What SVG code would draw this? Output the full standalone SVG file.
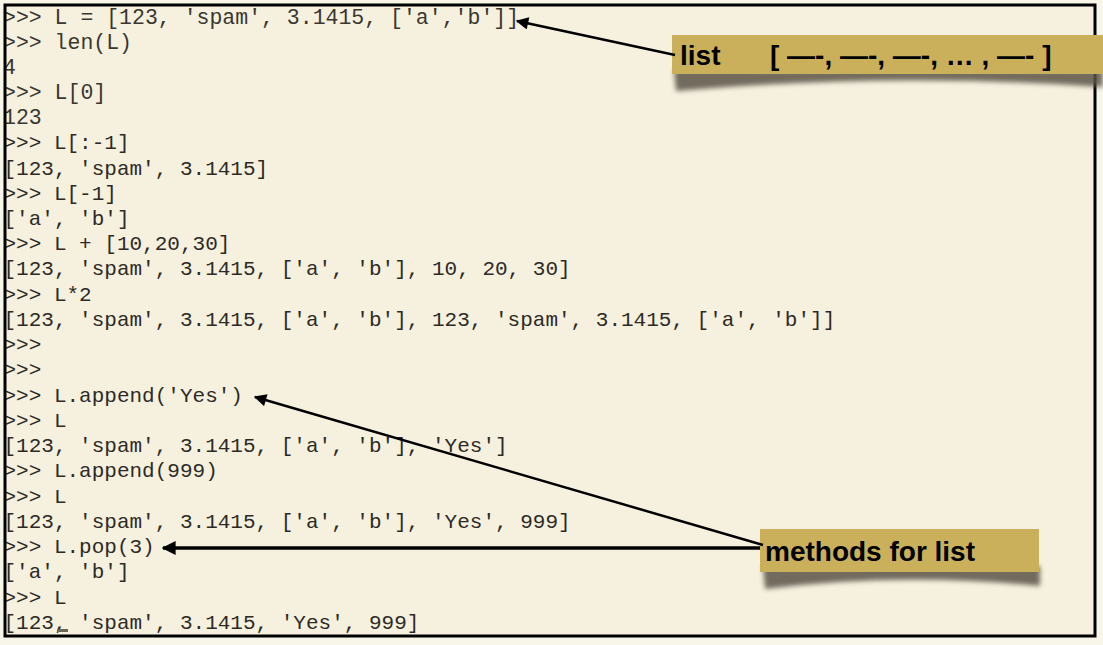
<svg xmlns="http://www.w3.org/2000/svg" width="1103" height="645" viewBox="0 0 1103 645">
<defs>
<style>
.code{font-family:"Liberation Mono","Courier New",monospace;font-size:21px;fill:#2d2a26;white-space:pre}
.top{font-size:21.5px;fill:#3a3631}
.lbl{font-family:"Liberation Sans",Arial,sans-serif;font-size:28px;font-weight:bold;fill:#000;white-space:pre}
.box{fill:#cbb05c}
.shadow{fill:#5a5346;opacity:0.85;filter:url(#blur)}
.conn{stroke:#000;fill:none}
</style>
<filter id="blur" x="-10%" y="-50%" width="120%" height="200%"><feGaussianBlur stdDeviation="2.5"/></filter>
<marker id="ah" viewBox="0 0 10 10" refX="9" refY="5" markerWidth="6" markerHeight="5" markerUnits="strokeWidth" orient="auto"><path d="M0,0 L10,5 L0,10 Z" fill="#000"/></marker>
<marker id="ah2" viewBox="0 0 10 10" refX="9" refY="5" markerWidth="5" markerHeight="4" markerUnits="strokeWidth" orient="auto"><path d="M0,0 L10,5 L0,10 Z" fill="#000"/></marker>
</defs>
<rect x="0" y="0" width="1103" height="645" fill="#f8f5e9"/>
<rect x="5" y="5" width="1090" height="631" fill="#f6f1df"/>
<g id="code">
<text class="code top" x="3" y="24">&gt;&gt;&gt; L = [123, 'spam', 3.1415, ['a','b']]</text>
<text class="code top" x="3" y="49">&gt;&gt;&gt; len(L)</text>
<text class="code top" x="3" y="74">4</text>
<text class="code top" x="3" y="99">&gt;&gt;&gt; L[0]</text>
<text class="code top" x="3" y="124">123</text>
<text class="code" x="3.5" y="149">&gt;&gt;&gt; L[:-1]</text>
<text class="code" x="3.5" y="175">[123, 'spam', 3.1415]</text>
<text class="code" x="3.5" y="200">&gt;&gt;&gt; L[-1]</text>
<text class="code" x="3.5" y="225">['a', 'b']</text>
<text class="code" x="3.5" y="250">&gt;&gt;&gt; L + [10,20,30]</text>
<text class="code" x="3.5" y="275">[123, 'spam', 3.1415, ['a', 'b'], 10, 20, 30]</text>
<text class="code" x="3.5" y="301">&gt;&gt;&gt; L*2</text>
<text class="code" x="3.5" y="326">[123, 'spam', 3.1415, ['a', 'b'], 123, 'spam', 3.1415, ['a', 'b']]</text>
<text class="code" x="3.5" y="351">&gt;&gt;&gt;</text>
<text class="code" x="3.5" y="376">&gt;&gt;&gt;</text>
<text class="code" x="3.5" y="402">&gt;&gt;&gt; L.append('Yes')</text>
<text class="code" x="3.5" y="427">&gt;&gt;&gt; L</text>
<text class="code" x="3.5" y="452">[123, 'spam', 3.1415, ['a', 'b'], 'Yes']</text>
<text class="code" x="3.5" y="477">&gt;&gt;&gt; L.append(999)</text>
<text class="code" x="3.5" y="503">&gt;&gt;&gt; L</text>
<text class="code" x="3.5" y="528">[123, 'spam', 3.1415, ['a', 'b'], 'Yes', 999]</text>
<text class="code" x="3.5" y="553">&gt;&gt;&gt; L.pop(3)</text>
<text class="code" x="3.5" y="578">['a', 'b']</text>
<text class="code" x="3.5" y="604">&gt;&gt;&gt; L</text>
<text class="code" x="3.5" y="629">[123, 'spam', 3.1415, 'Yes', 999]</text>
<rect x="57" y="629" width="11" height="3" fill="#6b665c"/>
</g>
<rect x="5" y="5" width="1090" height="631" fill="none" stroke="#000" stroke-width="3"/>
<g id="node-list">
<path class="shadow" d="M674,70 L1103,70 L1103,87 Q890,72 676,91 Z"/>
<rect class="box" x="672" y="35" width="431" height="39"/>
<text class="lbl" x="680" y="65">list</text>
<text class="lbl" x="770" y="65">[ —-, —-, —-, … , —- ]</text>
</g>
<g id="node-methods">
<path class="shadow" d="M763,566 L1040,566 L1040,586 Q900,572 765,589 Z"/>
<rect class="box" x="760" y="529" width="279" height="43"/>
<text class="lbl" x="765" y="561">methods for list</text>
</g>
<g id="connectors">
<line class="conn" x1="675" y1="55" x2="517" y2="21" stroke-width="2.5" marker-end="url(#ah)"/>
<line class="conn" x1="763" y1="545" x2="255" y2="397" stroke-width="2.5" marker-end="url(#ah)"/>
<line class="conn" x1="760" y1="548" x2="163" y2="548" stroke-width="3.5" marker-end="url(#ah2)"/>
</g>
</svg>
